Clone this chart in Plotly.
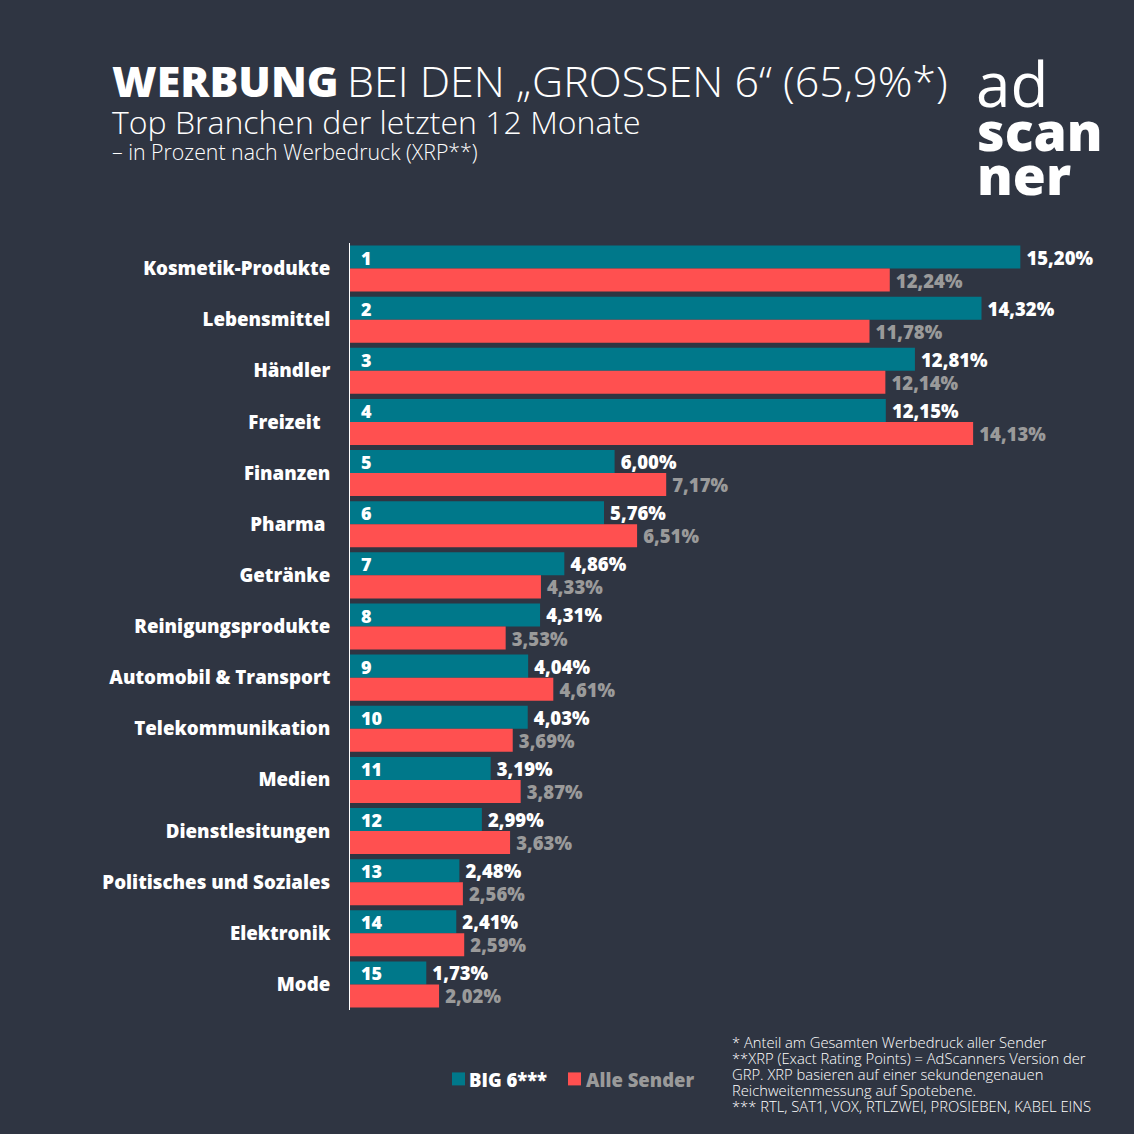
import plotly.graph_objects as go

# Top Branchen, Werbedruck in Prozent
branchen = ['Kosmetik-Produkte', 'Lebensmittel', 'Händler', 'Freizeit&nbsp;&nbsp;', 'Finanzen',
            'Pharma&nbsp;', 'Getränke', 'Reinigungsprodukte', 'Automobil &amp; Transport',
            'Telekommunikation', 'Medien', 'Dienstlesitungen', 'Politisches und Soziales',
            'Elektronik', 'Mode']
big6 = [15.20, 14.32, 12.81, 12.15, 6.00, 5.76, 4.86, 4.31, 4.04, 4.03, 3.19, 2.99, 2.48, 2.41, 1.73]
alle = [12.24, 11.78, 12.14, 14.13, 7.17, 6.51, 4.33, 3.53, 4.61, 3.69, 3.87, 3.63, 2.56, 2.59, 2.02]
rang = list(range(1, 16))

bg = '#2f3542'
teal = '#00788a'
red = '#ff5050'
grau = '#9a9a9a'
font = 'Open Sans'


def fmt(v):
    return '\u2009' + f'{v:.2f}'.replace('.', ',') + '%'


fig = go.Figure()
fig.add_trace(go.Bar(y=branchen, x=big6, orientation='h', name='BIG 6***',
                     marker=dict(color=teal, line_width=0),
                     text=[fmt(v) for v in big6], textposition='outside', cliponaxis=False,
                     constraintext='none',
                     textfont=dict(family=font, size=18.5, color='white', weight=800)))
fig.add_trace(go.Bar(y=branchen, x=alle, orientation='h', name='Alle Sender',
                     marker=dict(color=red, line_width=0),
                     text=[fmt(v) for v in alle], textposition='outside', cliponaxis=False,
                     constraintext='none',
                     textfont=dict(family=font, size=18.5, color=grau, weight=800)))

annos = []
for b, r in zip(branchen, rang):
    annos.append(dict(x=0, y=b, xref='x', yref='y', text=str(r), showarrow=False,
                      xanchor='left', xshift=9, yshift=11,
                      font=dict(family=font, size=18, color='white', weight=800)))

W, H = 1134, 1134
L, T, B = 350, 242.5, 123.5


def txt(x, y, s, size, weight=300, color='white'):
    annos.append(dict(x=x, y=y, xref='paper', yref='paper', text=s, showarrow=False, xanchor='left',
                      yanchor='middle', align='left',
                      font=dict(family=font, size=size, color=color, weight=weight)))


def px(x):
    return (x - L) / (W - L)


def py(y):
    return (H - B - y) / (H - T - B)


txt(px(110), py(80), 'WERBUNG', 43, 800)
txt(px(345), py(80), 'BEI DEN „GROSSEN 6“ (65,9%*)', 43, 300)
txt(px(110), py(121), 'Top Branchen der letzten 12 Monate', 32, 300)
txt(px(110), py(151), '– in Prozent nach Werbedruck (XRP**)', 21.3, 300)

# Logo
txt(px(974), py(82), 'ad', 62, 400)
txt(px(975), py(130), 'scan', 53.5, 800)
txt(px(975), py(174), 'ner', 53.5, 800)

# Legende von Hand, Quadrat direkt vor dem Text
key = []
for (x0, colr), (xt, name, tc) in zip([(452, teal), (568, red)],
                                      [(467, 'BIG 6***', 'white'), (584, 'Alle Sender', grau)]):
    key.append(dict(type='rect', xref='paper', yref='paper', x0=px(x0), x1=px(x0 + 13),
                    y0=py(1073), y1=py(1086), fillcolor=colr, line_width=0))
    txt(px(xt), py(1080), name, 18.5, 800, tc)

# Fussnoten
notes = ['* Anteil am Gesamten Werbedruck aller Sender',
         '**XRP (Exact Rating Points) = AdScanners Version der',
         'GRP. XRP basieren auf einer sekundengenauen',
         'Reichweitenmessung auf Spotebene.',
         '*** RTL, SAT1, VOX, RTLZWEI, PROSIEBEN, KABEL EINS']
for i, n in enumerate(notes):
    txt(px(730), py(1043 + i * 16), n, 14.75, 300)

fig.update_layout(
    width=W, height=H, autosize=False,
    paper_bgcolor=bg, plot_bgcolor=bg,
    margin=dict(l=L, r=0, t=T, b=B, pad=0),
    barmode='group', bargap=0.1, bargroupgap=0,
    font=dict(family=font, color='white'),
    annotations=annos, shapes=key,
    showlegend=False,
    xaxis=dict(range=[0, (W - L) / 44.1], visible=False),
    yaxis=dict(autorange='reversed', showgrid=False, zeroline=False, showline=True, linecolor='white',
               linewidth=1, ticks='', ticklabelstandoff=15,
               tickfont=dict(family=font, size=18.7, color='white', weight=800)),
)

fig.write_html('out.html', config={'displayModeBar': False},
               post_script="document.body.style.margin='0';")
